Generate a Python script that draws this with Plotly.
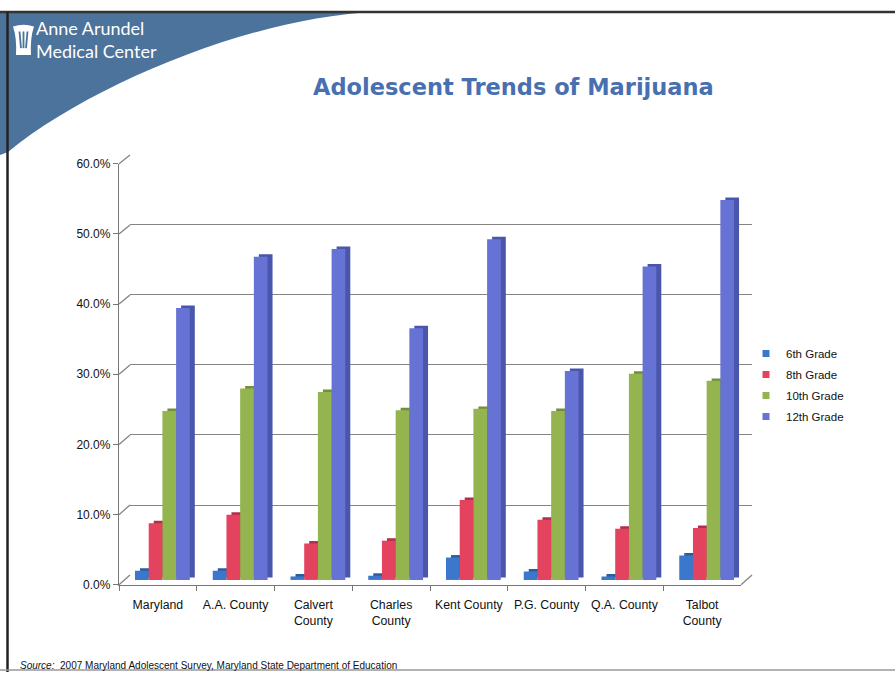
import plotly.graph_objects as go

# ---- data -------------------------------------------------------------
categories = ["Maryland", "A.A. County", "Calvert<br>County", "Charles<br>County",
              "Kent County", "P.G. County", "Q.A. County", "Talbot<br>County"]
series_names = ["6th Grade", "8th Grade", "10th Grade", "12th Grade"]
grade6 = [1.3, 1.3, 0.5, 0.6, 3.2, 1.2, 0.5, 3.5]
grade8 = [8.1, 9.3, 5.2, 5.6, 11.4, 8.6, 7.3, 7.4]
grade10 = [24.1, 27.3, 26.8, 24.2, 24.4, 24.1, 29.4, 28.4]
grade12 = [38.8, 46.1, 47.2, 35.9, 48.6, 29.8, 44.7, 54.2]
series_values = [grade6, grade8, grade10, grade12]
y_ticks = [0, 10, 20, 30, 40, 50, 60]
y_tick_text = ["{:.1f}%".format(v) for v in y_ticks]

# ---- styling ----------------------------------------------------------
W, H = 895, 679
face_colors = ["#3b78cc", "#e4435f", "#93b44f", "#6773d4"]
side_colors = ["#2c5ca0", "#b02f4b", "#70903a", "#4a55ac"]
grid_color = "#848484"
axis_color = "#777777"
font_family = "Liberation Sans, Arial, sans-serif"


def fx(x):
    return x / W


def fy(y):
    return 1 - y / H


# pixel frames: back wall, bar plane (mid depth) and front axes
back = dict(x0=130, x1=752, y0=580, y1=151)
mid = dict(x0=124.5, x1=746.5, y0=585, y1=155.5)
front = dict(x0=119, x1=741, y0=590, y1=160)

n = len(categories)
cat_px = (mid["x1"] - mid["x0"]) / n
val_px = (mid["y0"] - mid["y1"]) / 60.0
bar_w = 13.7 / cat_px
lead = 10.5 / cat_px
depth_x = 5.0 / cat_px
depth_y = 2.5 / val_px

fig = go.Figure()

# back wall (gridlines only)
fig.add_trace(go.Scatter(x=[0], y=[None], xaxis="x", yaxis="y",
                         showlegend=False, hoverinfo="skip"))

# extruded sides first, then the front faces on top of them
for i, (name, vals) in enumerate(zip(series_names, series_values)):
    fig.add_trace(go.Bar(
        x=list(range(n)), y=vals, base=[depth_y] * n,
        offset=-0.5 + lead + i * bar_w + depth_x, width=bar_w,
        marker=dict(color=side_colors[i], line=dict(width=0)),
        xaxis="x2", yaxis="y2", showlegend=False, hoverinfo="skip"))
for i, (name, vals) in enumerate(zip(series_names, series_values)):
    fig.add_trace(go.Bar(
        x=list(range(n)), y=vals,
        offset=-0.5 + lead + i * bar_w, width=bar_w,
        marker=dict(color=face_colors[i], line=dict(width=0)),
        name=name, xaxis="x2", yaxis="y2", showlegend=False,
        hovertemplate="%{y:.1f}%<extra>" + name + "</extra>"))

# front axes carrying tick labels and the legend entries
fig.add_trace(go.Scatter(x=categories, y=[None] * n, xaxis="x3", yaxis="y3",
                         showlegend=False, hoverinfo="skip"))
for i, name in enumerate(series_names):
    fig.add_trace(go.Scatter(
        x=[categories[0]], y=[None], mode="markers", name=name,
        marker=dict(symbol="square", size=7, color=face_colors[i]),
        xaxis="x3", yaxis="y3", legendgroup=name))

hidden = dict(showgrid=False, zeroline=False, showline=False,
              showticklabels=False, ticks="")

layout = dict(
    width=W, height=H, margin=dict(l=0, r=0, t=0, b=0),
    paper_bgcolor="white", plot_bgcolor="rgba(0,0,0,0)",
    barmode="overlay", showlegend=True,
    font=dict(family=font_family, color="#111111"),
    xaxis=dict(domain=[fx(back["x0"]), fx(back["x1"])], range=[-0.5, n - 0.5],
               anchor="y", **hidden),
    yaxis=dict(domain=[fy(back["y0"]), fy(back["y1"])], range=[0, 60],
               anchor="x", tickvals=y_ticks, showgrid=True, gridcolor=grid_color,
               gridwidth=1.4, zeroline=False, showline=False,
               showticklabels=False, ticks=""),
    xaxis2=dict(domain=[fx(mid["x0"]), fx(mid["x1"])], range=[-0.5, n - 0.5],
                anchor="y2", **hidden),
    yaxis2=dict(domain=[fy(mid["y0"]), fy(mid["y1"])], range=[0, 60],
                anchor="x2", **hidden),
    xaxis3=dict(domain=[fx(front["x0"]), fx(front["x1"])], range=[-0.5, n - 0.5],
                anchor="y3", type="category", categoryarray=categories,
                showline=True, linecolor=axis_color, linewidth=1.3,
                ticks="outside", tickson="boundaries", ticklen=5,
                tickcolor=axis_color, showgrid=False, zeroline=False,
                ticklabelstandoff=8,
                tickfont=dict(size=12.3, color="#111111", family=font_family)),
    yaxis3=dict(domain=[fy(front["y0"]), fy(front["y1"])], range=[0, 60],
                anchor="x3", tickvals=y_ticks, ticktext=y_tick_text,
                showline=True, linecolor=axis_color, linewidth=1.3,
                ticks="outside", ticklen=5, tickcolor=axis_color,
                showgrid=False, zeroline=False,
                tickfont=dict(size=12, color="#111111", family=font_family)),
    legend=dict(x=fx(746), y=fy(339), xanchor="left", yanchor="top",
                font=dict(size=11.5, family=font_family, color="#111111"),
                bgcolor="rgba(0,0,0,0)", tracegroupgap=2, itemwidth=30),
)
fig.update_layout(**layout)

shapes = []


def line(x0, y0, x1, y1, color, width):
    shapes.append(dict(type="line", xref="paper", yref="paper",
                       x0=fx(x0), y0=fy(y0), x1=fx(x1), y1=fy(y1),
                       line=dict(color=color, width=width)))


# side-wall edges joining the front axis to the back wall at each gridline
for v in y_ticks:
    yf = front["y0"] - (front["y0"] - front["y1"]) * v / 60
    yb = back["y0"] - (back["y0"] - back["y1"]) * v / 60
    line(front["x0"], yf, back["x0"], yb, grid_color, 1.3)
# right edge of the floor
line(front["x1"], front["y0"], back["x1"], back["y0"], grid_color, 1.3)

# slide header swoosh
shapes.append(dict(
    type="path", xref="paper", yref="paper",
    path=("M {a},{b} L {c},{b} C {d},{e} {f},{g} {h},{i} L {a},{j} Z").format(
        a=fx(0), b=fy(5), c=fx(375), d=fx(255), e=fy(10), f=fx(92), g=fy(78),
        h=fx(8), i=fy(148), j=fy(151)),
    fillcolor="#4b739b", line=dict(width=0), layer="below"))

# slide frame
line(0, 5, W, 5, "#333333", 2.5)
line(7.5, 5, 7.5, H, "#222222", 2.5)
line(0, 677, W, 677, "#999999", 1.5)

# logo emblem
emblem_pts = [(13, 20), (23.5, 16), (34, 20), (30, 32), (31, 49),
              (16, 49), (17, 32), (13, 20)]
p = [(fx(a), fy(b)) for a, b in emblem_pts]
shapes.append(dict(
    type="path", xref="paper", yref="paper",
    path="M {},{} Q {},{} {},{} Q {},{} {},{} L {},{} Q {},{} {},{} Z".format(
        *p[0], *p[1], *p[2], *p[3], *p[4], *p[5], *p[6], *p[7]),
    fillcolor="white", line=dict(width=0)))
for x_top, x_bot in ((19.5, 21), (23.5, 23.5), (27.5, 26)):
    line(x_top, 25, x_bot, 42, "#4b739b", 1.8)

fig.update_layout(shapes=shapes)

annotations = [
    dict(text="<b>Adolescent Trends of Marijuana</b>", x=fx(513), y=fy(82),
         xref="paper", yref="paper", showarrow=False, xanchor="center",
         yanchor="middle",
         font=dict(family="DejaVu Sans, Verdana, sans-serif", size=22.5,
                   color="#4870b0")),
    dict(text="Anne Arundel<br>Medical Center", x=fx(34), y=fy(33),
         xref="paper", yref="paper", showarrow=False, xanchor="left",
         yanchor="middle", align="left",
         font=dict(family="Lato, sans-serif", size=18, color="white")),
    dict(text="<i>Source:</i>  2007 Maryland Adolescent Survey, Maryland State Department of Education",
         x=fx(18), y=fy(672), xref="paper", yref="paper", showarrow=False,
         xanchor="left", yanchor="middle",
         font=dict(family=font_family, size=10, color="#111111")),
]
fig.update_layout(annotations=annotations)

fig.write_html("out.html")
